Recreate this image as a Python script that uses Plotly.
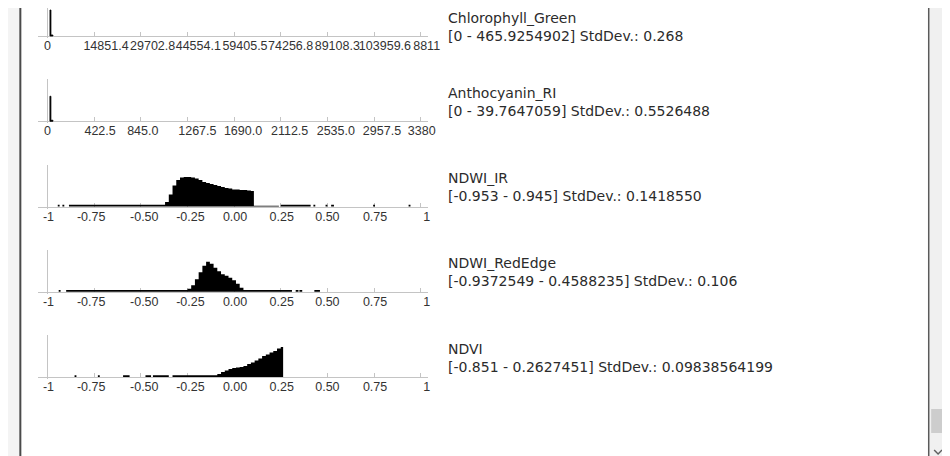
import plotly.graph_objects as go

# ---------------- data ----------------
NAMES = ["Chlorophyll_Green", "Anthocyanin_RI", "NDWI_IR", "NDWI_RedEdge", "NDVI"]
STATS = [
    "[0 - 465.9254902] StdDev.: 0.268",
    "[0 - 39.7647059] StdDev.: 0.5526488",
    "[-0.953 - 0.945] StdDev.: 0.1418550",
    "[-0.9372549 - 0.4588235] StdDev.: 0.106",
    "[-0.851 - 0.2627451] StdDev.: 0.09838564199",
]

CHL_TICKS = [0, 14851.4, 29702.8, 44554.1, 59405.5, 74256.8, 89108.3, 103959.6, 118811]
CHL_LABELS = ["0", "14851.4", "29702.8", "44554.1", "59405.5", "74256.8", "89108.3", "103959.6", "8811"]
ANT_TICKS = [0, 422.5, 845.0, 1267.5, 1690.0, 2112.5, 2535.0, 2957.5, 3380]
ANT_LABELS = ["0", "422.5", "845.0", "1267.5", "1690.0", "2112.5", "2535.0", "2957.5", "3380"]
IDX_TICKS = [-1, -0.75, -0.5, -0.25, 0, 0.25, 0.5, 0.75, 1]
IDX_LABELS = ["-1", "-0.75", "-0.50", "-0.25", "0.00", "0.25", "0.50", "0.75", "1"]

# histogram bins: start, end, relative count
CHL_START = [785, 1100]
CHL_END = [1100, 1730]
CHL_COUNT = [26, 1]

ANT_START = [22, 31]
ANT_END = [31, 50]
ANT_COUNT = [25, 1]

IR_START = [-0.945, -0.92, -0.885, -0.37, -0.35, -0.33, -0.31, -0.29, -0.27, -0.25, -0.23, -0.21,
            -0.19, -0.17, -0.15, -0.13, -0.11, -0.09, -0.07, -0.05, -0.03, -0.01, 0.01, 0.03,
            0.05, 0.07, 0.09, 0.106, 0.25, 0.425, 0.49, 0.52, 0.745, 0.935]
IR_END = [-0.935, -0.91, -0.37, -0.35, -0.33, -0.31, -0.29, -0.27, -0.25, -0.23, -0.21, -0.19,
          -0.17, -0.15, -0.13, -0.11, -0.09, -0.07, -0.05, -0.03, -0.01, 0.01, 0.03, 0.05,
          0.07, 0.09, 0.106, 0.24, 0.41, 0.435, 0.50, 0.535, 0.755, 0.945]
IR_COUNT = [1.8, 1.8, 1.8, 4.5, 12, 21, 26.5, 29, 29.5, 29.5, 29, 28,
            26.5, 24.5, 23.5, 22.5, 21.5, 20.5, 19.5, 18.5, 18, 17, 17, 16.5,
            16.5, 16, 15.5, 0.8, 1.8, 1.8, 1.8, 1.8, 1.8, 1.8]

RE_START = [-0.94, -0.9, -0.25, -0.23, -0.21, -0.19, -0.17, -0.15, -0.13, -0.11, -0.09, -0.07,
            -0.05, -0.03, -0.01, 0.01, 0.03, 0.05, 0.07, 0.33, 0.35, 0.43]
RE_END = [-0.93, -0.25, -0.23, -0.21, -0.19, -0.17, -0.15, -0.13, -0.11, -0.09, -0.07, -0.05,
          -0.03, -0.01, 0.01, 0.03, 0.05, 0.07, 0.31, 0.345, 0.365, 0.46]
RE_COUNT = [1.8, 1.8, 3, 6.5, 12.5, 19.5, 26, 30, 28, 24, 20.5, 17.5,
            16, 14, 11.5, 8, 4, 1.8, 1.8, 1.8, 1.8, 1.8]

NDVI_START = [-0.855, -0.73, -0.595, -0.475, -0.435, -0.33, -0.09, -0.07, -0.05, -0.03, -0.01,
              0.01, 0.03, 0.05, 0.07, 0.09, 0.11, 0.13, 0.15, 0.17, 0.19, 0.21, 0.23, 0.25]
NDVI_END = [-0.845, -0.72, -0.56, -0.445, -0.35, -0.09, -0.07, -0.05, -0.03, -0.01, 0.01,
            0.03, 0.05, 0.07, 0.09, 0.11, 0.13, 0.15, 0.17, 0.19, 0.21, 0.23, 0.25, 0.2627]
NDVI_COUNT = [1.8, 1.8, 1.8, 1.8, 1.8, 1.8, 3, 5, 6.5, 8, 9,
              9.5, 10, 11, 13, 14.5, 16.5, 18.5, 21, 22.5, 24.5, 26, 28.5, 30]

PANELS = [
    (CHL_TICKS, CHL_LABELS, CHL_START, CHL_END, CHL_COUNT),
    (ANT_TICKS, ANT_LABELS, ANT_START, ANT_END, ANT_COUNT),
    (IDX_TICKS, IDX_LABELS, IR_START, IR_END, IR_COUNT),
    (IDX_TICKS, IDX_LABELS, RE_START, RE_END, RE_COUNT),
    (IDX_TICKS, IDX_LABELS, NDVI_START, NDVI_END, NDVI_COUNT),
]
SPIKE_PANELS = {0, 1}   # drawn as crisp bars; others as filled step outlines

# ---------------- layout (pixels) ----------------
W, H = 950, 456
BASELINE_PX = [28, 113.25, 198.5, 283.75, 369]
TEXT_TOP_OFF = 38.5          # top of the two-line text block above the baseline
LABEL_SHIFT_PX = [
    [0, 12, 12, 11, 11, 10, 10, 11, 6],
    [0, 6, 2, 10, 9, 9, 8.5, 8, 1],
    [1, -3, 3.5, 3, 1, 1, 0, 1, 6],
    [1, -3, 3.5, 3, 1, 1, 0, 1, 6],
    [1, -3, 3.5, 3, 1, 1, 0, 1, 6],
]
AX_LEFT, TICK0, TICK1, AX_RIGHT = 30, 40, 418, 425
YAX_H = 42
FONT = "Liberation Sans, Arial, sans-serif"
TEXT_FONT = "DejaVu Sans, Verdana, sans-serif"
AXIS_COL = "#c4c4c4"

fig = go.Figure()
layout = dict(
    width=W, height=H, margin=dict(l=0, r=0, t=0, b=0),
    paper_bgcolor="white", plot_bgcolor="white", showlegend=False,
    font=dict(family=FONT, color="#333333"),
)
annotations = []


def step_outline(st, en, cnt):
    """Histogram bins -> points of a step ('hv') outline, dropping to 0 across gaps."""
    xs, ys = [], []
    prev_end = None
    for s, e, c in zip(st, en, cnt):
        if prev_end is None:
            xs.append(s); ys.append(0)
        elif s - prev_end > 1e-9:
            xs.append(prev_end); ys.append(0)
        xs.append(s); ys.append(c)
        prev_end = e
    xs.append(prev_end); ys.append(0)
    return xs, ys


for i, (ticks, labels, st, en, cnt) in enumerate(PANELS):
    n = i + 1
    xa = "x" if n == 1 else f"x{n}"
    ya = "y" if n == 1 else f"y{n}"
    a, b = ticks[0], ticks[-1]
    u = (b - a) / (TICK1 - TICK0)  # data units per px
    lo = a - (TICK0 - AX_LEFT) * u
    hi = b + (AX_RIGHT - TICK1) * u
    yb = BASELINE_PX[i]
    label_pos = [t + s * u for t, s in zip(ticks, LABEL_SHIFT_PX[i])]

    if i in SPIKE_PANELS:
        centers = [(s + e) / 2 for s, e in zip(st, en)]
        widths = [e - s for s, e in zip(st, en)]
        fig.add_trace(go.Bar(
            x=centers, y=cnt, width=widths, xaxis=xa, yaxis=ya,
            marker=dict(color="black", line=dict(width=0.8, color="black")), hoverinfo="skip",
        ))
    else:
        xs, ys = step_outline(st, en, cnt)
        fig.add_trace(go.Scatter(
            x=xs, y=ys, mode="lines", line=dict(shape="hv", width=0, color="black"),
            fill="tozeroy", fillcolor="black", xaxis=xa, yaxis=ya, hoverinfo="skip",
        ))

    layout[f"xaxis{'' if n == 1 else n}"] = dict(
        domain=[AX_LEFT / W, AX_RIGHT / W], range=[lo, hi],
        anchor="free", position=(H - yb) / H,
        showline=True, linecolor=AXIS_COL, linewidth=1, layer="below traces",
        showgrid=False, zeroline=False, fixedrange=True,
        tickmode="array", tickvals=label_pos, ticktext=labels, ticks="", tickangle=0,
        ticklabelstandoff=-2,
        tickfont=dict(size=12.5, color="#333333", family=FONT),
        minor=dict(tickmode="array", tickvals=ticks, ticks="inside", ticklen=4,
                   tickcolor=AXIS_COL, tickwidth=1, showgrid=False),
    )
    top_px = max(0, yb - YAX_H)
    layout[f"yaxis{'' if n == 1 else n}"] = dict(
        domain=[(H - (yb + 2)) / H, (H - top_px) / H],
        range=[-2, yb - top_px],
        anchor="free", position=TICK0 / W,
        showline=True, linecolor=AXIS_COL, linewidth=1,
        showgrid=False, zeroline=False, showticklabels=False, ticks="", fixedrange=True,
    )
    text_top = max(0, yb - TEXT_TOP_OFF)
    annotations.append(dict(
        xref="paper", yref="paper", x=444 / W, y=(H - text_top) / H,
        xanchor="left", yanchor="top", align="left",
        text=NAMES[i] + "<br>" + STATS[i], showarrow=False,
        font=dict(size=14, color="#2b2b2b", family=TEXT_FONT),
    ))

def px(x):
    return x / W

def py(y):
    return (H - y) / H

shapes = [
    dict(type="rect", xref="paper", yref="paper", x0=0, x1=px(12), y0=0, y1=1,
         fillcolor="#f4f4f4", line=dict(width=0), layer="below"),
    dict(type="line", xref="paper", yref="paper", x0=px(12.5), x1=px(12.5), y0=0, y1=1,
         line=dict(color="#4a4a4a", width=2)),
    dict(type="rect", xref="paper", yref="paper", x0=px(933), x1=1, y0=0, y1=1,
         fillcolor="#f0f0f0", line=dict(width=0), layer="below"),
    dict(type="line", xref="paper", yref="paper", x0=px(932.5), x1=px(932.5), y0=0, y1=1,
         line=dict(color="#5a5a5a", width=1.5)),
    dict(type="rect", xref="paper", yref="paper", x0=px(935), x1=px(949), y0=py(425), y1=py(401),
         fillcolor="#cdcdcd", line=dict(width=0)),
    dict(type="path", xref="paper", yref="paper",
         path=f"M {px(938)} {py(442)} L {px(942)} {py(446)} L {px(946)} {py(442)}",
         line=dict(color="#606060", width=1.5)),
]

layout["annotations"] = annotations
layout["shapes"] = shapes
fig.update_layout(**layout)
fig.write_html("out.html")
